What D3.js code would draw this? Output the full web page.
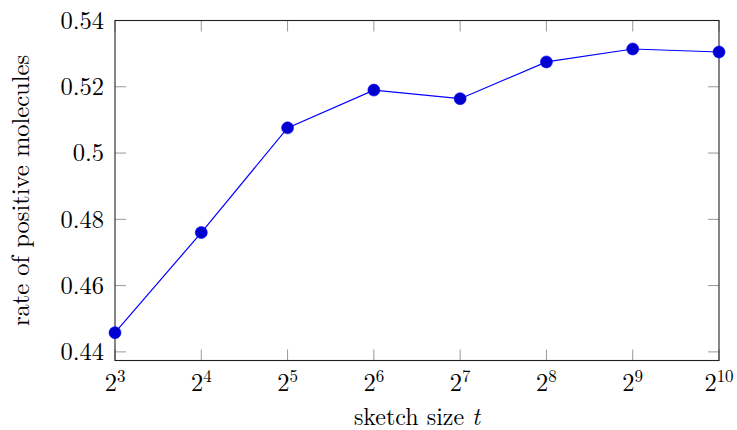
<!DOCTYPE html>
<html>
<head>
<meta charset="utf-8">
<script src="https://cdn.jsdelivr.net/npm/d3@7"></script>
<style>
  body { margin: 0; background: #fff; }
  text { font-family: "Latin Modern Roman", "Liberation Serif", "DejaVu Serif", serif; fill: #000; }
</style>
</head>
<body>
<div id="chart"></div>
<script>
// sketch size exponents (t = 2^k)
var exponents = [3, 4, 5, 6, 7, 8, 9, 10];
// rate of positive molecules
var rates = [0.4458, 0.476, 0.5076, 0.519, 0.5164, 0.5275, 0.5314, 0.5305];
var yTicks = [0.44, 0.46, 0.48, 0.5, 0.52, 0.54];

var width = 737, height = 430;
var margin = { top: 20.5, right: 18, bottom: 69.5, left: 115 };
var w = width - margin.left - margin.right,
  h = height - margin.top - margin.bottom;

var svg = d3.select("#chart")
  .append("svg")
  .attr("width", width)
  .attr("height", height);

var g = svg.append("g")
  .attr("transform", "translate(" + margin.left + "," + margin.top + ")");

var x = d3.scaleLinear().domain([3, 10]).range([0, w]);
var y = d3.scaleLinear().domain([0.4374, 0.54]).range([h, 0]);

var tickLen = 11;
var tickColor = "#999";

// ticks, mirrored on all four sides, pointing inward
exponents.forEach(function (k) {
  g.append("line").attr("x1", x(k)).attr("x2", x(k))
    .attr("y1", h).attr("y2", h - tickLen)
    .attr("stroke", tickColor).attr("stroke-width", 1);
  g.append("line").attr("x1", x(k)).attr("x2", x(k))
    .attr("y1", 0).attr("y2", tickLen)
    .attr("stroke", tickColor).attr("stroke-width", 1);
});
yTicks.forEach(function (v) {
  g.append("line").attr("x1", 0).attr("x2", tickLen)
    .attr("y1", y(v)).attr("y2", y(v))
    .attr("stroke", tickColor).attr("stroke-width", 1);
  g.append("line").attr("x1", w).attr("x2", w - tickLen)
    .attr("y1", y(v)).attr("y2", y(v))
    .attr("stroke", tickColor).attr("stroke-width", 1);
});

// frame
g.append("rect")
  .attr("x", 0).attr("y", 0)
  .attr("width", w).attr("height", h)
  .attr("fill", "none")
  .attr("stroke", "#222")
  .attr("stroke-width", 1.1);

var fs = "24.5px";

// y tick labels
g.selectAll(".ylab")
  .data(yTicks)
  .enter()
  .append("text")
  .attr("x", -11)
  .attr("y", function (d) { return y(d); })
  .attr("dy", "0.34em")
  .attr("text-anchor", "end")
  .style("font-size", fs)
  .text(function (d) { return d3.format("")(d); });

// x tick labels as powers of two
var xl = g.selectAll(".xlab")
  .data(exponents)
  .enter()
  .append("text")
  .attr("x", function (d) { return x(d); })
  .attr("y", h + 30)
  .attr("text-anchor", "middle")
  .style("font-size", fs);
xl.append("tspan").text("2");
xl.append("tspan")
  .attr("dy", -9)
  .style("font-size", "17px")
  .text(function (d) { return d; });

// axis titles
var xt = g.append("text")
  .attr("x", w / 2)
  .attr("y", h + 64)
  .attr("text-anchor", "middle")
  .style("font-size", "24px");
xt.append("tspan").text("sketch size ");
xt.append("tspan").style("font-style", "italic").text("t");

g.append("text")
  .attr("transform", "translate(" + (29 - margin.left) + "," + (h / 2) + ") rotate(-90)")
  .attr("text-anchor", "middle")
  .style("font-size", fs)
  .text("rate of positive molecules");

// series
var line = d3.line()
  .x(function (d, i) { return x(exponents[i]); })
  .y(function (d) { return y(d); });

g.append("path")
  .datum(rates)
  .attr("d", line)
  .attr("fill", "none")
  .attr("stroke", "#0000ff")
  .attr("stroke-width", 1.2);

g.selectAll("circle")
  .data(rates)
  .enter()
  .append("circle")
  .attr("cx", function (d, i) { return x(exponents[i]); })
  .attr("cy", function (d) { return y(d); })
  .attr("r", 6)
  .attr("fill", "#0000d0")
  .attr("stroke", "#0000ff")
  .attr("stroke-width", 0.6);
</script>
</body>
</html>
